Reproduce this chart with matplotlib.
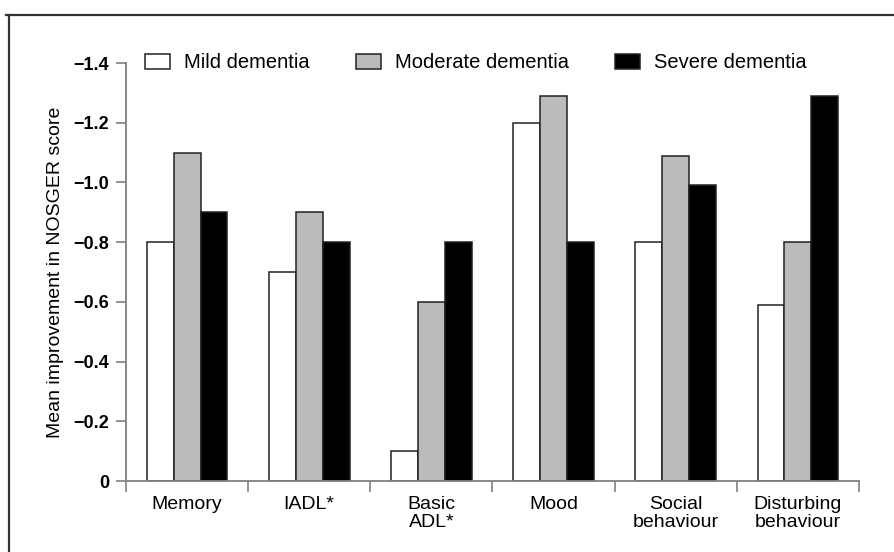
import matplotlib
matplotlib.use('Agg')
import matplotlib.pyplot as plt
from matplotlib.lines import Line2D
from matplotlib.ticker import FixedLocator, FuncFormatter
import numpy as np

plt.rcParams['font.family'] = ['Liberation Sans', 'DejaVu Sans']

# Data
categories = ['Memory', 'IADL*', 'Basic\nADL*', 'Mood', 'Social\nbehaviour', 'Disturbing\nbehaviour']
series = ['Mild dementia', 'Moderate dementia', 'Severe dementia']
mild = [-0.8, -0.7, -0.1, -1.2, -0.8, -0.59]
moderate = [-1.1, -0.9, -0.6, -1.29, -1.09, -0.8]
severe = [-0.9, -0.8, -0.8, -0.8, -0.99, -1.29]
y_ticks = [0, -0.2, -0.4, -0.6, -0.8, -1.0, -1.2, -1.4]

colors = ['white', '#bbbbbb', 'black']

fig = plt.figure(figsize=(8.95, 5.52), dpi=100)
ax = fig.add_axes([126 / 895, 1 - 481 / 552, (859 - 126) / 895, (481 - 63) / 552])

x = np.arange(len(categories)) + 0.5
w = 0.22
for i, (vals, name) in enumerate(zip([mild, moderate, severe], series)):
    ax.bar(x + (i - 1) * w, vals, width=w, color=colors[i], edgecolor='#222222',
           linewidth=1.1, label=name, zorder=2)

ax.set_xlim(0, len(categories))
ax.set_ylim(0, -1.4)

# y axis
ax.yaxis.set_major_locator(FixedLocator(y_ticks))
ax.yaxis.set_major_formatter(FuncFormatter(
    lambda v, p: '0' if abs(v) < 1e-9 else f'{v:.1f}'.replace('-', '\u2212')))
ax.tick_params(axis='y', direction='out', length=7, width=1.2, color='#808080',
               pad=5, labelsize=13)
for t in ax.get_yticklabels():
    t.set_fontweight('bold')
ax.set_ylabel('Mean improvement in NOSGER score', fontsize=14, labelpad=7)

# x axis: labels at centres, ticks at boundaries
ax.set_xticks(x)
ax.set_xticklabels(categories, fontsize=14, linespacing=1.05)
ax.set_xticks(np.arange(len(categories) + 1), minor=True)
ax.tick_params(axis='x', which='major', length=0, pad=11)
ax.tick_params(axis='x', which='minor', direction='out', length=8, width=1.2,
               color='#808080')

for s in ['top', 'right']:
    ax.spines[s].set_visible(False)
for s in ['left', 'bottom']:
    ax.spines[s].set_color('#808080')
    ax.spines[s].set_linewidth(1.3)
    ax.spines[s].set_zorder(3)

ax.legend(ncol=3, frameon=False, loc='center left',
          bbox_to_anchor=(19 / 733, 1.0), borderaxespad=0, borderpad=0,
          handlelength=1.25, handleheight=0.8, handletextpad=0.68,
          columnspacing=2.3, fontsize=14.5)

# outer frame lines (top and left)
fig.add_artist(Line2D([6 / 895, 1], [1 - 14.5 / 552, 1 - 14.5 / 552],
                      transform=fig.transFigure, color='#333333', lw=1.6))
fig.add_artist(Line2D([9.5 / 895, 9.5 / 895], [1 - 14.5 / 552, 0],
                      transform=fig.transFigure, color='#333333', lw=1.6))

fig.savefig('out.png', dpi=100)
